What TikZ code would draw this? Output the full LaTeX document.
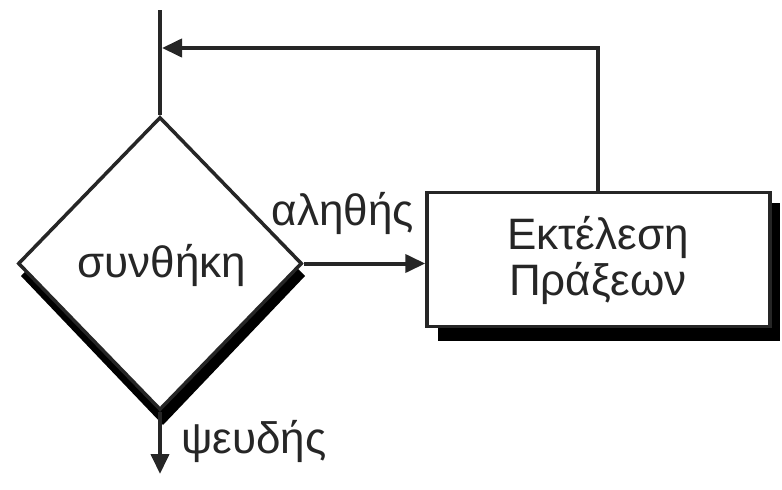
\documentclass[tikz,border=0pt]{standalone}
\usepackage{fontspec}
\setmainfont{Liberation Sans}
\usetikzlibrary{shapes.geometric,arrows.meta}
\definecolor{ink}{gray}{0.15}
\tikzset{
  lbl/.style={font=\fontsize{44}{48}\selectfont, text=ink, inner sep=0pt},
  conn/.style={line width=4pt, draw=ink},
  tip/.style={-{Triangle[length=20pt,width=18pt]}},
  decision/.style={diamond, draw=ink, line width=3.5pt, fill=white, inner sep=0pt,
    minimum width=284pt, minimum height=293pt},
  action/.style={rectangle, draw=ink, line width=3.5pt, fill=white, inner sep=0pt,
    minimum width=343pt, minimum height=134pt, align=center},
}
\begin{document}
\begin{tikzpicture}[x=1pt,y=-1pt]
  \useasboundingbox (0,0) rectangle (782,490);
  % shadows
  \fill[black] (163,132) -- (21,276) -- (163,425) -- (305,276) -- cycle;
  \fill[black] (438,203) rectangle (780,341);
  % shapes
  \node[decision] (cond) at (160,263.5) {};
  \node[lbl] at (162,265) {συνθήκη};
  \node[action] (act) at (598.5,259.5) {};
  \node[lbl, align=center] (acttext) at (598,260) {Εκτέλεση\\[-2pt]Πράξεων};
  % connectors
  \coordinate (top) at (160,10);
  \coordinate (corner) at (598,48);
  \coordinate (join) at (162,48);
  \coordinate (down) at (160,474);
  \draw[conn] (top) -- (cond.north);
  \draw[conn, tip] (act.north -| corner) -- (corner) -- (join);
  \draw[conn, tip] (cond.east) -- (cond.east -| act.west);
  \draw[conn, tip] (cond.south) -- (down);
  % labels
  \node[lbl] at (343,213) {αληθής};
  \node[lbl] at (254,441) {ψευδής};
\end{tikzpicture}
\end{document}
